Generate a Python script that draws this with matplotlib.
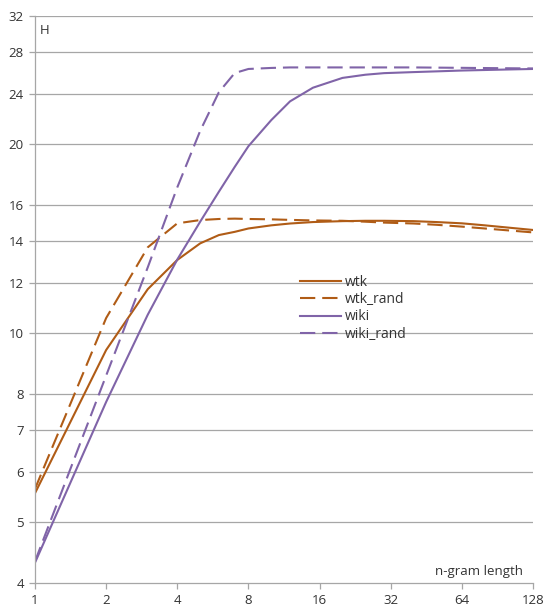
import matplotlib
matplotlib.use("Agg")
import matplotlib.pyplot as plt
from matplotlib.ticker import FixedLocator, NullLocator

n = [1, 2, 3, 4, 5, 6, 7, 8, 10, 12, 15, 20, 25, 30, 40, 50, 64, 80, 100, 128]
wtk = [5.56, 9.4, 11.75, 13.08, 13.9, 14.33, 14.5, 14.68, 14.85, 14.95, 15.03, 15.08,
       15.1, 15.1, 15.08, 15.03, 14.96, 14.85, 14.73, 14.6]
wtk_rand = [5.65, 10.57, 13.7, 14.96, 15.14, 15.2, 15.22, 15.2, 15.18, 15.15, 15.12,
            15.1, 15.05, 15.0, 14.95, 14.88, 14.78, 14.68, 14.58, 14.47]
wiki = [4.31, 7.77, 10.7, 13.1, 15.05, 16.8, 18.4, 19.85, 21.85, 23.4, 24.6, 25.5,
        25.8, 25.95, 26.05, 26.12, 26.2, 26.25, 26.3, 26.35]
wiki_rand = [4.33, 8.56, 12.73, 17.07, 21.0, 24.2, 25.96, 26.35, 26.45, 26.5, 26.5,
             26.5, 26.5, 26.5, 26.5, 26.48, 26.46, 26.44, 26.42, 26.4]

x_ticks = [1, 2, 4, 8, 16, 32, 64, 128]
y_ticks = [4, 5, 6, 7, 8, 10, 12, 14, 16, 20, 24, 28, 32]

plt.rcParams['font.family'] = ['Open Sans', 'DejaVu Sans']
plt.rcParams['lines.scale_dashes'] = False

W, H = 545, 612
fig = plt.figure(figsize=(W / 100, H / 100), dpi=100)
ax = fig.add_axes([35 / W, (H - 583) / H, (533 - 35) / W, (583 - 16) / H])

orange = '#B05C16'
purple = '#8064A8'
lw = 1.5
dash = (0, (11, 5))

ax.plot(n, wtk, color=orange, lw=lw, label='wtk')
ax.plot(n, wtk_rand, color=orange, lw=lw, linestyle=dash, label='wtk_rand')
ax.plot(n, wiki, color=purple, lw=lw, label='wiki')
ax.plot(n, wiki_rand, color=purple, lw=lw, linestyle=dash, label='wiki_rand')

ax.set_xscale('log', base=2)
ax.set_yscale('log', base=2)
ax.set_xlim(1, 128)
ax.set_ylim(4, 32)

ax.xaxis.set_major_locator(FixedLocator(x_ticks))
ax.xaxis.set_minor_locator(NullLocator())
ax.set_xticklabels([str(v) for v in x_ticks])
ax.yaxis.set_major_locator(FixedLocator(y_ticks))
ax.yaxis.set_minor_locator(NullLocator())
ax.set_yticklabels([str(v) for v in y_ticks])

for v in y_ticks[1:]:
    ax.axhline(v, color='#a6a6a6', lw=0.9, zorder=0)

for s in ['top', 'right']:
    ax.spines[s].set_visible(False)
for s in ['left', 'bottom']:
    ax.spines[s].set_color('#a6a6a6')
    ax.spines[s].set_linewidth(0.9)

ax.tick_params(axis='both', which='major', direction='out', length=4, width=0.9,
               color='#a6a6a6', labelsize=9.5, labelcolor='#333333', pad=4)

ax.text(40 / W, 1 - 30 / H, 'H', transform=fig.transFigure, fontsize=9.5,
        color='#333333', ha='left', va='center')
ax.text(523 / W, 1 - 571 / H, 'n-gram length', transform=fig.transFigure, fontsize=9.5,
        color='#333333', ha='right', va='center')

leg = ax.legend(loc='upper left', bbox_to_anchor=(300 / W, 1 - 275 / H),
                bbox_transform=fig.transFigure, frameon=False, fontsize=10,
                handlelength=2.95, handletextpad=0.25, labelspacing=0.16,
                borderpad=0, borderaxespad=0, labelcolor='#333333')

fig.savefig('out.png', dpi=100)
